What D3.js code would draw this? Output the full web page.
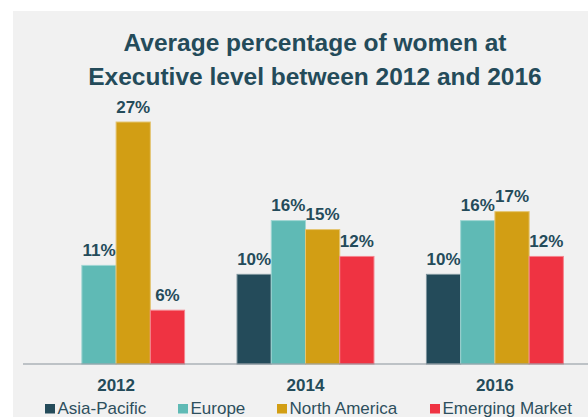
<!DOCTYPE html>
<html lang="en">
<head>
<meta charset="utf-8">
<title>Average percentage of women at Executive level</title>
<script src="https://d3js.org/d3.v7.min.js"></script>
<style>
  body { margin: 0; background: #fff; }
  svg { display: block; font-family: "Liberation Sans", Arial, sans-serif; }
  .title { font-size: 24.5px; font-weight: bold; fill: #244b5a; }
  .val { font-size: 17px; font-weight: bold; fill: #244b5a; }
  .year { font-size: 17px; font-weight: bold; fill: #244b5a; }
  .leg { font-size: 17px; fill: #2d4f5d; }
</style>
</head>
<body>
<script>
// data
const years = ["2012", "2014", "2016"];
const regions = ["Asia-Pacific", "Europe", "North America", "Emerging Market"];
const asiaPacific = [0, 10, 10];
const europe = [11, 16, 16];
const northAmerica = [27, 15, 17];
const emerging = [6, 12, 12];
const colors = ["#244b5a", "#5fbab5", "#d29e14", "#ef3342"];

const series = [asiaPacific, europe, northAmerica, emerging];
const rows = [];
years.forEach((yr, i) => {
  regions.forEach((r, j) => {
    rows.push({ year: yr, region: r, value: series[j][i], color: colors[j] });
  });
});

const w = 588, h = 417;
const base = 364;

const svg = d3.select("body").append("svg")
  .attr("width", w)
  .attr("height", h);

// grey panel
svg.append("rect")
  .attr("x", 13).attr("y", 11)
  .attr("width", w - 13).attr("height", h - 11)
  .attr("fill", "#f1f1f1");

// title
const title = svg.append("text")
  .attr("class", "title")
  .attr("text-anchor", "middle");
title.append("tspan").attr("x", 315).attr("y", 51).text("Average percentage of women at");
title.append("tspan").attr("x", 315).attr("y", 84.5).text("Executive level between 2012 and 2016");

// scales
const x0 = d3.scaleBand()
  .domain(years)
  .range([23, w])
  .paddingInner(0.277)
  .paddingOuter(0.13);

const x1 = d3.scaleBand()
  .domain(regions)
  .range([0, x0.bandwidth()]);

const y = d3.scaleLinear()
  .domain([0, 27])
  .range([base, 122]);

// bars
const shown = rows.filter(d => d.value > 0);

svg.append("g").selectAll("rect")
  .data(shown)
  .join("rect")
  .attr("x", d => x0(d.year) + x1(d.region))
  .attr("y", d => y(d.value))
  .attr("width", x1.bandwidth())
  .attr("height", d => base - y(d.value))
  .attr("fill", d => d.color)
  .attr("stroke", d => d3.interpolateRgb(d.color, "#ffffff")(0.4))
  .attr("stroke-width", 1);

// value labels
svg.append("g").selectAll("text")
  .data(shown)
  .join("text")
  .attr("class", "val")
  .attr("text-anchor", "middle")
  .attr("x", d => x0(d.year) + x1(d.region) + x1.bandwidth() / 2)
  .attr("y", d => y(d.value) - 9.5)
  .text(d => d.value + "%");

// axis line
svg.append("line")
  .attr("x1", 23).attr("x2", w)
  .attr("y1", base).attr("y2", base)
  .attr("stroke", "#8a939b")
  .attr("stroke-width", 1.2);

// year labels
svg.append("g").selectAll("text")
  .data(years)
  .join("text")
  .attr("class", "year")
  .attr("text-anchor", "middle")
  .attr("x", d => x0(d) + x0.bandwidth() / 2)
  .attr("y", 390.5)
  .text(d => d);

// legend (item x positions taken from the original layout)
const legX = [45, 178, 277, 430];
const leg = svg.append("g").selectAll("g")
  .data(regions)
  .join("g")
  .attr("transform", (d, i) => "translate(" + legX[i] + ",0)");

leg.append("rect")
  .attr("x", 0).attr("y", 404)
  .attr("width", 10).attr("height", 9.5)
  .attr("fill", (d, i) => colors[i]);

leg.append("text")
  .attr("class", "leg")
  .attr("x", 12.5).attr("y", 413.5)
  .text(d => d);
</script>
</body>
</html>
